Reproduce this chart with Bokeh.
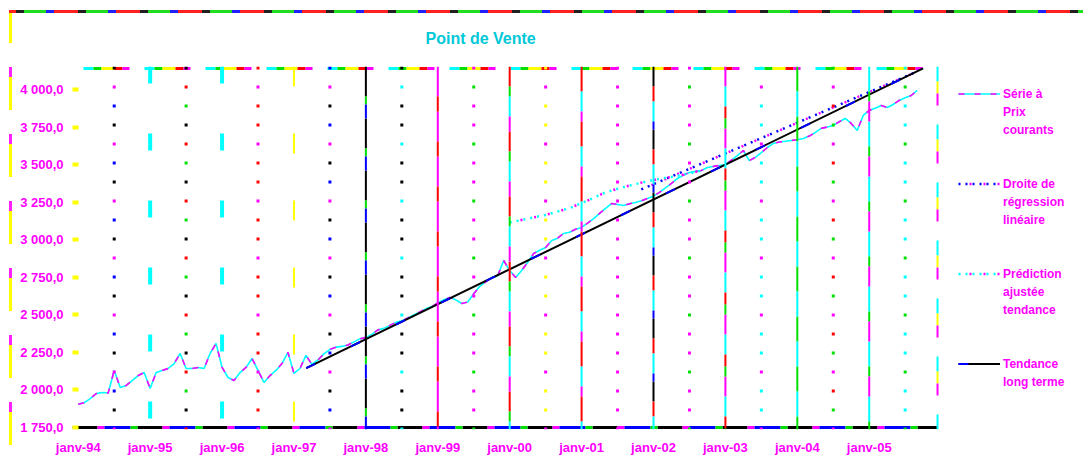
from bokeh.plotting import figure
from bokeh.models import Span, Legend, LegendItem, FixedTicker, Range1d
from bokeh.embed import file_html
from bokeh.resources import INLINE

# ---------------- data ----------------
title_text = "Point de Vente"

x_tick_years = [1994, 1995, 1996, 1997, 1998, 1999, 2000, 2001, 2002, 2003, 2004, 2005]
x_tick_labels = ["janv-94", "janv-95", "janv-96", "janv-97", "janv-98", "janv-99",
                 "janv-00", "janv-01", "janv-02", "janv-03", "janv-04", "janv-05"]

y_ticks = [1750, 2000, 2250, 2500, 2750, 3000, 3250, 3500, 3750, 4000]
y_tick_labels = ["1 750,0", "2 000,0", "2 250,0", "2 500,0", "2 750,0",
                 "3 000,0", "3 250,0", "3 500,0", "3 750,0", "4 000,0"]

# monthly real series, starting janv-94
real_start_year = 1994
real_vals = [
    1905, 1916, 1943, 1976, 1983, 1980, 2130, 2016, 2030, 2063, 2096, 2116,   # 1994
    2010, 2116, 2130, 2143, 2176, 2243, 2143, 2143, 2150, 2143, 2243, 2310,   # 1995
    2150, 2083, 2063, 2116, 2150, 2210, 2130, 2050, 2096, 2130, 2176, 2250,   # 1996
    2110, 2143, 2230, 2170, 2200, 2240, 2270, 2285, 2290, 2300, 2320, 2340,   # 1997
    2350, 2370, 2400, 2410, 2430, 2450, 2460, 2480, 2500, 2520, 2540, 2555,   # 1998
    2580, 2600, 2615, 2600, 2576, 2585, 2640, 2690, 2720, 2749, 2760, 2862,   # 1999
    2795, 2749, 2795, 2850, 2908, 2930, 2948, 2995, 3010, 3042, 3050, 3070,   # 2000
    3082, 3110, 3140, 3175, 3208, 3241, 3235, 3228, 3240, 3248, 3260, 3275,   # 2001
    3290, 3315, 3345, 3375, 3408, 3430, 3448, 3455, 3461, 3481, 3488, 3494,   # 2002
    3500, 3530, 3560, 3594, 3527, 3548, 3580, 3614, 3641, 3650, 3655, 3661,   # 2003
    3665, 3674, 3690, 3714, 3741, 3750, 3761, 3785, 3807, 3774, 3727, 3827,   # 2004
    3861, 3875, 3894, 3880, 3900, 3927, 3945, 3960, 3994,                     # 2005
]
real_x = [real_start_year + i / 12 for i in range(len(real_vals))]

reg_x = [2001.83, 2005.67]
reg_y = [3335, 4120]

pred_x = [2000.0, 2000.5, 2000.83, 2001.08, 2001.33, 2001.58, 2001.83, 2002.08, 2002.33, 2002.67]
pred_y = [3115, 3165, 3210, 3260, 3315, 3350, 3380, 3405, 3425, 3460]

trend_x = [1997.17, 2005.75]
trend_y = [2145, 4140]

legend_lines = [
    ["Série à", "Prix", "courants"],
    ["Droite de", "régression", "linéaire"],
    ["Prédiction", "ajustée", "tendance"],
    ["Tendance", "long terme"],
]

# ---------------- styling ----------------
C, M, Y, G, R, B, K = "#00FFFF", "#FF00FF", "#FFFF00", "#00E000", "#FF0000", "#0000FF", "#000000"
FONT = "Liberation Sans"

# visible plotting box (axes area) and the wider frame that also hosts the legend
x_start, x_vis_end, x_frame_end = 1993.92, 2005.95, 2007.98
y_start, y_end = 1750, 4140
y_pad = 13  # ~2px so that the border lines are not cut by the frame

p = figure(width=1083, height=460, output_backend="svg", toolbar_location=None,
           x_range=Range1d(x_start, x_frame_end),
           y_range=Range1d(y_start - y_pad, y_end + y_pad),
           min_border_left=72, min_border_right=0, min_border_top=66, min_border_bottom=31)
p.border_fill_color = None
p.background_fill_color = None
p.outline_line_color = None
p.xgrid.visible = False
p.ygrid.visible = False

p.styles = {
    "background-image": (
        "repeating-linear-gradient(90deg, #FF2020 0px 7px, #202020 7px 15px, #20DD20 15px 37px, "
        "#2020FF 37px 45px, #FF2020 45px 62px), "
        "repeating-linear-gradient(180deg, #FFFF00 0px 33px, transparent 33px 57px, #FF20FF 57px 67px)"
    ),
    "background-size": "100% 3px, 3px 100%",
    "background-position": "9px 10px, 9px 10px",
    "background-repeat": "no-repeat",
}

p.title.text = title_text
p.title.align = "left"
p.title.offset = 353
p.title.standoff = 40
p.title.text_font = FONT
p.title.text_font_size = "16px"
p.title.text_font_style = "bold"
p.title.text_color = "#00C8D8"

# axes
p.xaxis.ticker = FixedTicker(ticks=x_tick_years)
p.xaxis.major_label_overrides = dict(zip(x_tick_years, x_tick_labels))
p.xaxis.axis_line_color = None
p.xaxis.major_tick_line_color = None
p.xaxis.minor_tick_line_color = None
p.xaxis.major_label_standoff = 4
p.xaxis.major_label_text_font = FONT
p.xaxis.major_label_text_font_size = "13px"
p.xaxis.major_label_text_font_style = "bold"
p.xaxis.major_label_text_color = M

p.yaxis.ticker = FixedTicker(ticks=y_ticks)
p.yaxis.major_label_overrides = dict(zip(y_ticks, y_tick_labels))
p.yaxis.axis_line_color = None
p.yaxis.minor_tick_line_color = None
p.yaxis.major_tick_in = 6
p.yaxis.major_tick_out = 0
p.yaxis.major_tick_line_color = Y
p.yaxis.major_tick_line_width = 4
p.yaxis.major_label_standoff = 9
p.yaxis.major_label_text_font = FONT
p.yaxis.major_label_text_font_size = "13px"
p.yaxis.major_label_text_font_style = "bold"
p.yaxis.major_label_text_color = M


def multi_vline(loc, pieces, period, width):
    for color, start, length in pieces:
        p.add_layout(Span(location=loc, dimension="height", line_color=color, line_width=width,
                          line_dash=f"{length} {period - length}",
                          line_dash_offset=(period - start) % period))


def multi_hline(yv, pieces, period, width):
    for color, start, length in pieces:
        p.line([x_start, x_vis_end], [yv, yv], line_color=color, line_width=width,
               line_dash=f"{length} {period - length}",
               line_dash_offset=(period - start) % period)


# half-year dotted grid lines
half_colors = [(K, M, B), (K, R, G), (R, M, R), (B, M, K), (K, C, K), (M, G, M),
               (Y, M, Y), (M, M, M), (M, G, M), (C, M, C), (G, M, R), (C, G, C)]
for yr, cols in zip(x_tick_years, half_colors):
    multi_vline(yr + 0.5, [(cols[0], 0, 3), (cols[1], 19, 3), (cols[2], 38, 3)], 57, 3)

# yearly grid lines
year_styles = {
    1995: ([(C, 0, 17)], 67, 4),
    1996: ([(C, 0, 17)], 67, 4),
    1997: ([(Y, 0, 20)], 67, 2),
    1998: ([(K, 0, 30), (G, 30, 8), (B, 38, 14)], 52, 2),
    1999: ([(M, 0, 30), (R, 30, 15)], 45, 2),
    2000: ([(R, 0, 20), (G, 20, 10), (C, 30, 20), (M, 50, 15)], 65, 2),
    2001: ([(R, 0, 25), (C, 25, 20), (M, 45, 10)], 55, 2),
    2002: ([(K, 0, 20), (R, 20, 15), (C, 35, 20), (B, 55, 8)], 63, 2),
    2003: ([(M, 0, 20), (C, 20, 20), (R, 40, 12), (G, 52, 10)], 62, 2),
    2004: ([(G, 0, 25), (C, 25, 25)], 50, 2),
    2005: ([(C, 0, 25), (G, 25, 10), (M, 35, 20)], 55, 2),
}
for yr, (pieces, period, w) in year_styles.items():
    multi_vline(yr, pieces, period, w)

# box edges
multi_vline(x_vis_end, [(C, 0, 15), (Y, 15, 12), (M, 27, 12)], 58, 2)
multi_hline(y_end, [(C, 11, 10), (G, 21, 8), (Y, 29, 13), (R, 42, 8), (M, 50, 7)], 61, 3)
multi_hline(y_start, [(K, 0, 25), (M, 25, 7), (B, 32, 26), (G, 58, 7)], 65, 3)

# ---------------- series ----------------
r_real_a = p.line(real_x, real_vals, line_color=C, line_width=1.6)
r_real_b = p.line(real_x, real_vals, line_color=M, line_width=1.6, line_dash="6 10")
r_reg = p.line(reg_x, reg_y, line_color=B, line_width=2.5, line_dash="2 5")
r_reg_b = p.line(reg_x, reg_y, line_color=M, line_width=2.5, line_dash="2 12", line_dash_offset=3)
r_pred = p.line(pred_x, pred_y, line_color=C, line_width=2.5, line_dash="2 5")
r_pred_b = p.line(pred_x, pred_y, line_color=M, line_width=2.5, line_dash="2 12", line_dash_offset=3)
r_trend = p.line(trend_x, trend_y, line_color=K, line_width=2)
r_trend_b = p.line(trend_x, trend_y, line_color=B, line_width=2, line_dash="10 40")
r_blank = p.line([], [], line_alpha=0)

series_renderers = [[r_real_a, r_real_b], [r_reg, r_reg_b], [r_pred, r_pred_b], [r_trend, r_trend_b]]

items = []
for gi, (lines, rends) in enumerate(zip(legend_lines, series_renderers)):
    for li, txt in enumerate(lines):
        items.append(LegendItem(label=txt, renderers=rends if li == 0 else [r_blank]))
    if gi < len(legend_lines) - 1:
        items.append(LegendItem(label=" ", renderers=[r_blank]))
        items.append(LegendItem(label=" ", renderers=[r_blank]))

legend = Legend(items=items, location=(886, 40), padding=0, margin=0, spacing=3,
                label_height=15, glyph_height=15, glyph_width=42, label_standoff=3,
                border_line_color=None, background_fill_alpha=0,
                label_text_font=FONT, label_text_font_size="12px",
                label_text_font_style="bold", label_text_color=M)
p.add_layout(legend, "center")

open("out.html", "w").write(file_html(p, INLINE))
